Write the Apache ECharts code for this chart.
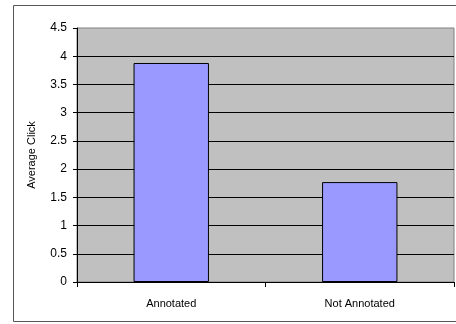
<!DOCTYPE html>
<html>
<head>
<meta charset="utf-8">
<script src="https://cdn.jsdelivr.net/npm/echarts@6/dist/echarts.min.js"></script>
<style>
  html, body { margin: 0; padding: 0; background: #fff; }
  #chart { width: 456px; height: 324px; }
</style>
</head>
<body>
<div id="chart"></div>
<script>
// 数据
var categories = ['Annotated', 'Not Annotated'];
var avgClicks = [3.88, 1.77];
var yTicks = [0, 0.5, 1, 1.5, 2, 2.5, 3, 3.5, 4, 4.5];

var myChart = echarts.init(document.getElementById('chart'));
var font = 'Liberation Sans, Arial, sans-serif';

var option = {
    animation: false,
    backgroundColor: '#fff',
    graphic: [{
        type: 'rect',
        shape: { x: 13.5, y: 5.5, width: 450, height: 316 },
        style: { fill: 'none', stroke: '#555', lineWidth: 1 },
        z: -1
    }],
    grid: {
        left: 77,
        top: 28,
        right: 2,
        bottom: 42,
        show: true,
        backgroundColor: '#c0c0c0',
        borderColor: '#808080',
        borderWidth: 1
    },
    xAxis: {
        type: 'category',
        data: categories,
        axisLine: { lineStyle: { color: '#000', width: 1 } },
        axisTick: { show: true, length: 5, lineStyle: { color: '#000' } }, // 刻度在类目之间
        axisLabel: { color: '#000', fontFamily: font, fontSize: 11, margin: 16 },
        splitLine: { show: false }
    },
    yAxis: {
        type: 'value',
        min: 0,
        max: yTicks[yTicks.length - 1],
        interval: 0.5,
        name: 'Average Click',
        nameLocation: 'middle',
        nameGap: 40,
        nameTextStyle: { color: '#000', fontFamily: font, fontSize: 11 },
        axisLine: { show: true, lineStyle: { color: '#000', width: 1 } },
        axisTick: { show: true, length: 4, lineStyle: { color: '#000' } },
        axisLabel: { color: '#000', fontFamily: font, fontSize: 12, margin: 10 },
        splitLine: { show: true, showMaxLine: false, lineStyle: { color: '#000', width: 1 } }
    },
    series: [{
        type: 'bar',
        data: avgClicks,
        barWidth: '40%',
        itemStyle: { color: '#9999ff', borderColor: '#000', borderWidth: 1 }
    }]
};

myChart.setOption(option, true);
</script>
</body>
</html>
